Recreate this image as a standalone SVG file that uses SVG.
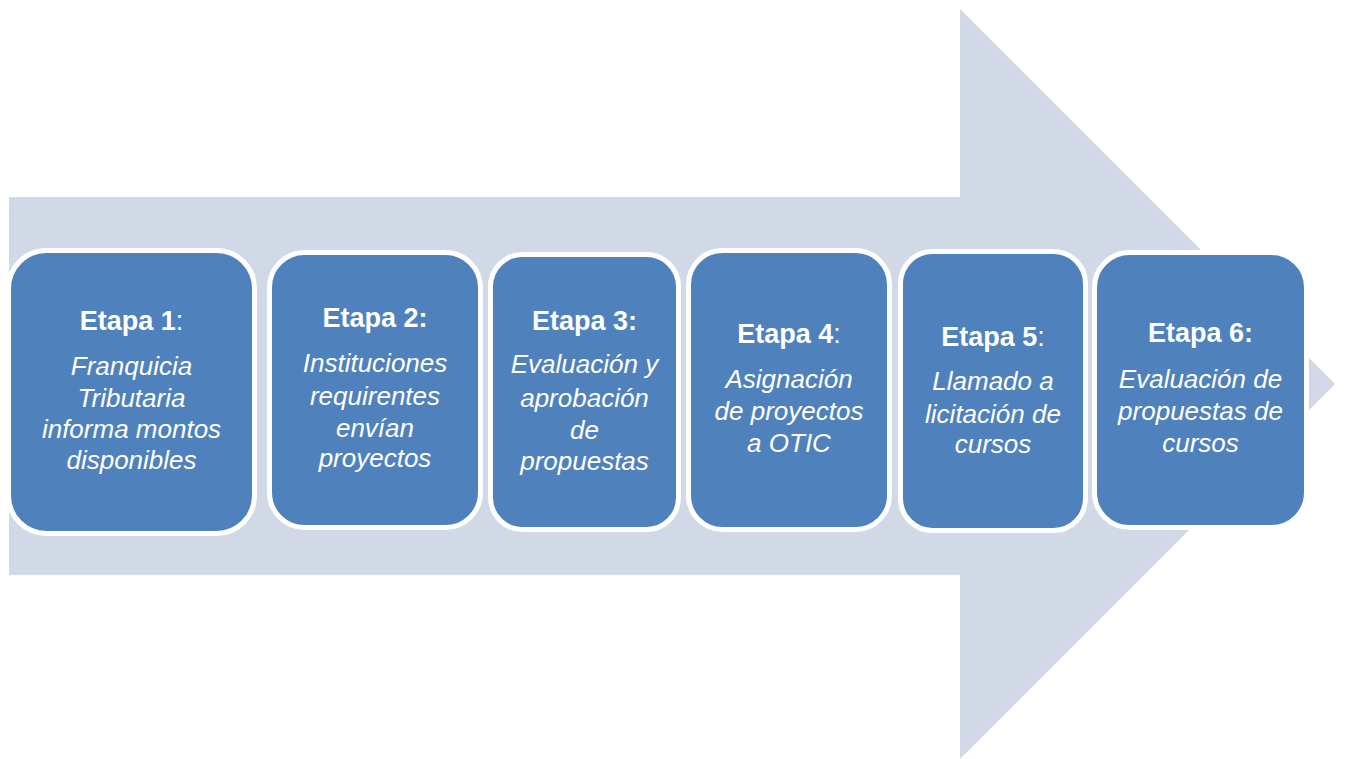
<svg xmlns="http://www.w3.org/2000/svg" width="1347" height="759" viewBox="0 0 1347 759">
<style>
.box{fill:#4F81BD;stroke:#FFFFFF;stroke-width:5}
.t{font-family:"Liberation Sans",Arial,sans-serif;fill:#FFFFFF;text-anchor:middle;font-size:26px}
.h{font-weight:bold;font-size:27px}
.i{font-style:italic}
</style>
<rect width="1347" height="759" fill="#FFFFFF"/>
<g id="connectors">
<polygon id="big-arrow" points="9,197 960,197 960,9 1335,384 960,759 960,575 9,575" fill="#D1D9E7"/>
</g>
<g id="etapa1">
<rect class="box" x="8.5" y="250.5" width="246" height="283" rx="38"/>
<text class="t h" x="131.5" y="330">Etapa 1<tspan font-weight="normal">:</tspan></text>
<text class="t i" x="131.5" y="375">Franquicia</text>
<text class="t i" x="131.5" y="407">Tributaria</text>
<text class="t i" x="131.5" y="438">informa montos</text>
<text class="t i" x="131.5" y="469">disponibles</text>
</g>
<g id="etapa2">
<rect class="box" x="269.5" y="252.5" width="211" height="275" rx="35"/>
<text class="t h" x="375" y="327">Etapa 2:</text>
<text class="t i" x="375" y="372">Instituciones</text>
<text class="t i" x="375" y="405">requirentes</text>
<text class="t i" x="375" y="437">envían</text>
<text class="t i" x="375" y="467">proyectos</text>
</g>
<g id="etapa3">
<rect class="box" x="490.5" y="254.5" width="188" height="275" rx="32"/>
<text class="t h" x="584.5" y="330">Etapa 3:</text>
<text class="t i" x="584.5" y="373">Evaluación y</text>
<text class="t i" x="584.5" y="407">aprobación</text>
<text class="t i" x="584.5" y="439">de</text>
<text class="t i" x="584.5" y="470">propuestas</text>
</g>
<g id="etapa4">
<rect class="box" x="688.5" y="250.5" width="201" height="279" rx="34"/>
<text class="t h" x="789" y="343">Etapa 4<tspan font-weight="normal">:</tspan></text>
<text class="t i" x="789" y="388">Asignación</text>
<text class="t i" x="789" y="420">de proyectos</text>
<text class="t i" x="789" y="452">a OTIC</text>
</g>
<g id="etapa5">
<rect class="box" x="900.5" y="251.5" width="185" height="279" rx="32"/>
<text class="t h" x="993" y="346">Etapa 5<tspan font-weight="normal">:</tspan></text>
<text class="t i" x="993" y="390">Llamado a</text>
<text class="t i" x="993" y="423">licitación de</text>
<text class="t i" x="993" y="453">cursos</text>
</g>
<g id="etapa6">
<rect class="box" x="1094.5" y="252.5" width="212" height="275" rx="35"/>
<text class="t h" x="1200.5" y="342">Etapa 6:</text>
<text class="t i" x="1200.5" y="388">Evaluación de</text>
<text class="t i" x="1200.5" y="420">propuestas de</text>
<text class="t i" x="1200.5" y="452">cursos</text>
</g>
</svg>
